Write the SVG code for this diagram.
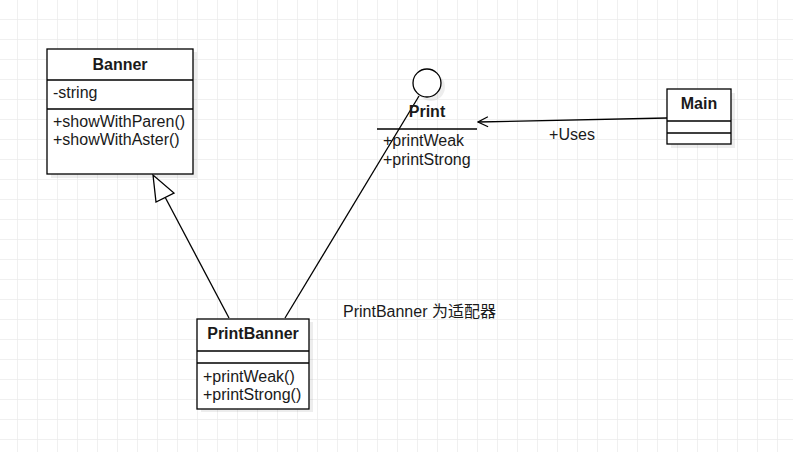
<svg xmlns="http://www.w3.org/2000/svg" width="793" height="452" viewBox="0 0 793 452">
<defs>
<pattern id="grid" x="17" y="19" width="20" height="20" patternUnits="userSpaceOnUse">
<path d="M0 0H20M0 0V20" fill="none" stroke="#ebebeb" stroke-width="1.5"/>
</pattern>
<marker id="open" viewBox="0 0 12 12" refX="11" refY="6" markerWidth="12" markerHeight="12" markerUnits="userSpaceOnUse" orient="auto">
<path d="M1 1L11 6L1 11" fill="none" stroke="#000" stroke-width="1.2"/>
</marker>
</defs>
<style>
.box{fill:#fff;stroke:#000;stroke-width:1.3}
.sh{fill:#000;fill-opacity:0.07}
.ln{stroke:#000;stroke-width:1.3;fill:none}
text{font-family:"Liberation Sans",Arial,"Noto Sans CJK SC",sans-serif;font-size:16px;fill:#1a1a1a}
.t{font-weight:bold;text-anchor:middle}
</style>
<rect width="793" height="452" fill="#fff"/>
<rect width="793" height="452" fill="url(#grid)"/>
<g id="connectors">
<path class="ln" d="M229 318L165 197"/>
<path d="M153 175L156 202L174 193Z" fill="#fff" stroke="#000" stroke-width="1.3"/>
<path class="ln" d="M419 96L285 318"/>
<path class="ln" d="M667 118L478 122" marker-end="url(#open)"/>
<text x="572" y="140" text-anchor="middle">+Uses</text>
</g>
<g id="Banner">
<rect class="sh" x="51" y="52" width="146" height="126"/>
<rect class="box" x="47" y="49" width="146" height="125"/>
<path class="ln" d="M47 80H193M47 109H193"/>
<text class="t" x="120" y="70">Banner</text>
<text x="53" y="98">-string</text>
<text x="53" y="127">+showWithParen()</text>
<text x="53" y="145">+showWithAster()</text>
</g>
<g id="Print">
<circle class="sh" cx="431" cy="87" r="14"/>
<circle cx="427" cy="83" r="14" fill="#fff" stroke="#000" stroke-width="1.3"/>
<text class="t" x="427" y="117">Print</text>
<path class="ln" d="M377 129H477"/>
<text x="383" y="146">+printWeak</text>
<text x="383" y="165">+printStrong</text>
</g>
<g id="PrintBanner">
<rect class="sh" x="201" y="322" width="112" height="90"/>
<rect class="box" x="197" y="319" width="112" height="90"/>
<path class="ln" d="M197 351H309M197 363H309"/>
<text class="t" x="253" y="339">PrintBanner</text>
<text x="203" y="382">+printWeak()</text>
<text x="203" y="400">+printStrong()</text>
</g>
<g id="Main">
<rect class="sh" x="671" y="93" width="64" height="55"/>
<rect class="box" x="667" y="89" width="64" height="55"/>
<path class="ln" d="M667 121H731M667 133H731"/>
<text class="t" x="699" y="109">Main</text>
</g>
<g id="note">
<text x="343" y="317">PrintBanner 为适配器</text>
</g>
</svg>
